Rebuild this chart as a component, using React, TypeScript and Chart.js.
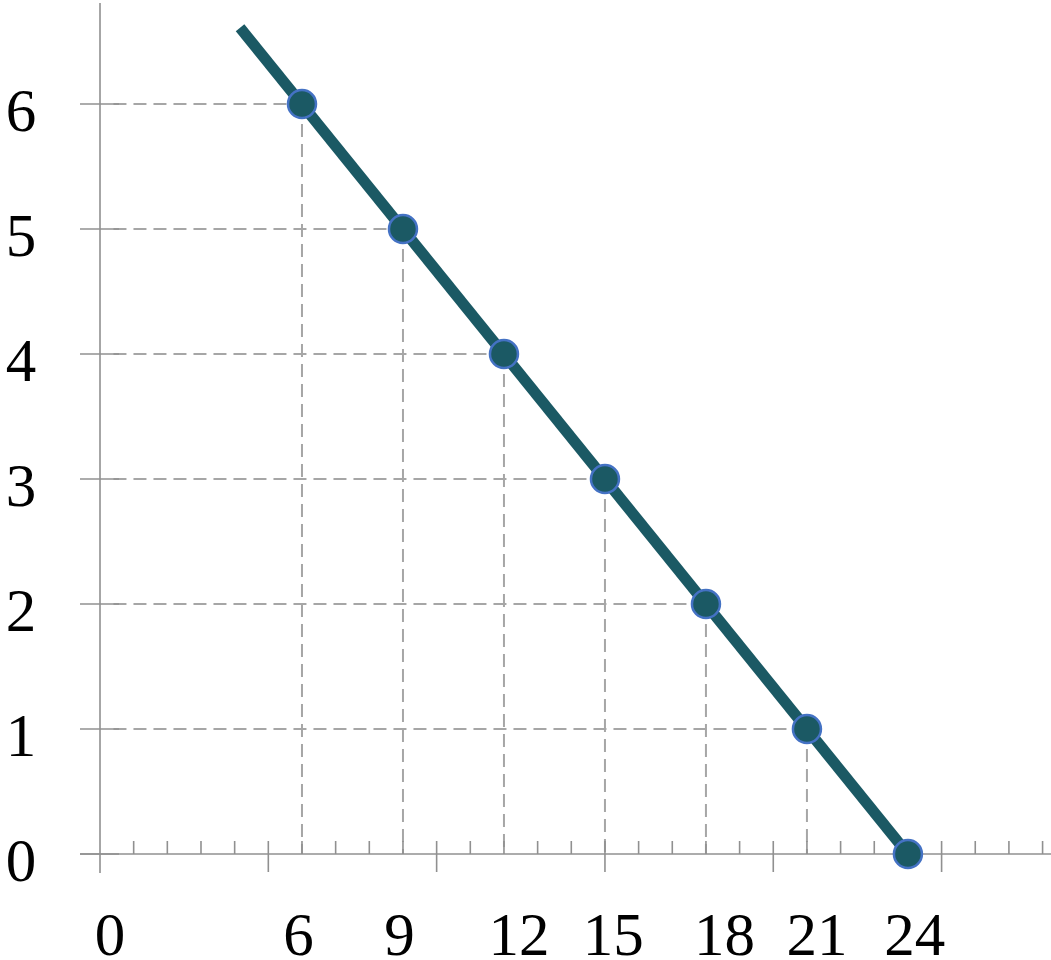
import React, { useEffect, useRef } from "react";
import { Chart, registerables } from "chart.js";

Chart.register(...registerables);

// ---- data ----
const pointX = [6, 9, 12, 15, 18, 21, 24];
const pointY = [6, 5, 4, 3, 2, 1, 0];
const lineX = [4.16, 24];
const lineY = [6.61, 0];
const xTickValues = [0.3, 5.9, 8.9, 12.45, 15.25, 18.55, 21.3, 24.2];
const xTickLabels = ["0", "6", "9", "12", "15", "18", "21", "24"];
const yTickValues = [0, 1, 2, 3, 4, 5, 6];
const yTickLabels = ["0", "1", "2", "3", "4", "5", "6"];
const xAxisMax = 28.25;
const yAxisMax = 6.832;
const guideStartX = 0.4;

const TEAL = "#1b5964";
const FONT = '61px "Liberation Serif", "Times New Roman", serif';

const decor = {
  id: "decor",
  beforeDatasetsDraw(chart: any) {
    const { ctx } = chart;
    const x = chart.scales.x;
    const y = chart.scales.y;
    const x0 = x.getPixelForValue(0);
    const y0 = y.getPixelForValue(0);
    ctx.save();
    // dashed guide lines
    ctx.strokeStyle = "#a6a6a6";
    ctx.lineWidth = 2;
    ctx.setLineDash([13, 7]);
    pointX.forEach((v, i) => {
      const px = x.getPixelForValue(v);
      const py = y.getPixelForValue(pointY[i]);
      if (pointY[i] > 0) {
        ctx.beginPath();
        ctx.moveTo(x.getPixelForValue(guideStartX), py);
        ctx.lineTo(px, py);
        ctx.stroke();
        ctx.beginPath();
        ctx.moveTo(px, py);
        ctx.lineTo(px, y0);
        ctx.stroke();
      }
    });
    ctx.setLineDash([]);
    // axes
    ctx.strokeStyle = "#909090";
    ctx.lineWidth = 1.6;
    ctx.beginPath();
    ctx.moveTo(x0, y.top + 3);
    ctx.lineTo(x0, y0 + 19);
    ctx.stroke();
    ctx.beginPath();
    ctx.moveTo(x0 - 20, y0);
    ctx.lineTo(x.right, y0);
    ctx.stroke();
    // y tick marks
    yTickValues.forEach((v) => {
      const py = y.getPixelForValue(v);
      ctx.beginPath();
      ctx.moveTo(x0 - 20, py);
      ctx.lineTo(x0 + 19, py);
      ctx.stroke();
    });
    // x tick marks
    for (let i = 1; i <= Math.floor(xAxisMax); i++) {
      const px = x.getPixelForValue(i);
      ctx.beginPath();
      ctx.moveTo(px, y0 - 13);
      ctx.lineTo(px, i % 5 === 0 ? y0 + 18 : y0);
      ctx.stroke();
    }
    // labels
    ctx.fillStyle = "#000";
    ctx.font = FONT;
    ctx.textAlign = "center";
    ctx.textBaseline = "alphabetic";
    xTickValues.forEach((v, i) => {
      ctx.fillText(xTickLabels[i], x.getPixelForValue(v), y0 + 101);
    });
    yTickValues.forEach((v, i) => {
      ctx.fillText(yTickLabels[i], 21, y.getPixelForValue(v) + 27);
    });
    ctx.restore();
  },
};

export default function App() {
  const ref = useRef<HTMLCanvasElement>(null);
  useEffect(() => {
    if (!ref.current) return;
    const chart = new Chart(ref.current, {
      type: "scatter",
      data: {
        datasets: [
          {
            label: "points",
            data: pointX.map((v, i) => ({ x: v, y: pointY[i] })),
            showLine: false,
            pointRadius: 14,
            pointHoverRadius: 14,
            pointBackgroundColor: TEAL,
            pointBorderColor: "#4472c4",
            pointBorderWidth: 2.5,
            clip: false,
            order: 0,
          } as any,
          {
            label: "line",
            data: lineX.map((v, i) => ({ x: v, y: lineY[i] })),
            showLine: true,
            borderColor: TEAL,
            borderWidth: 11,
            borderCapStyle: "butt",
            pointRadius: 0,
            clip: false,
            order: 1,
          } as any,
        ],
      },
      options: {
        animation: false,
        responsive: false,
        devicePixelRatio: 1,
        layout: { autoPadding: false, padding: { left: 100, right: 0, top: 0, bottom: 106 } },
        plugins: { legend: { display: false }, tooltip: { enabled: false } },
        scales: {
          x: { type: "linear", min: 0, max: xAxisMax, display: false },
          y: { type: "linear", min: 0, max: yAxisMax, display: false },
        },
      },
      plugins: [decor],
    });
    return () => chart.destroy();
  }, []);
  return (
    <div style={{ position: "fixed", left: 0, top: 0, width: 1051, height: 960, background: "#fff" }}>
      <canvas ref={ref} width={1051} height={960} style={{ width: 1051, height: 960, display: "block" }} />
    </div>
  );
}
